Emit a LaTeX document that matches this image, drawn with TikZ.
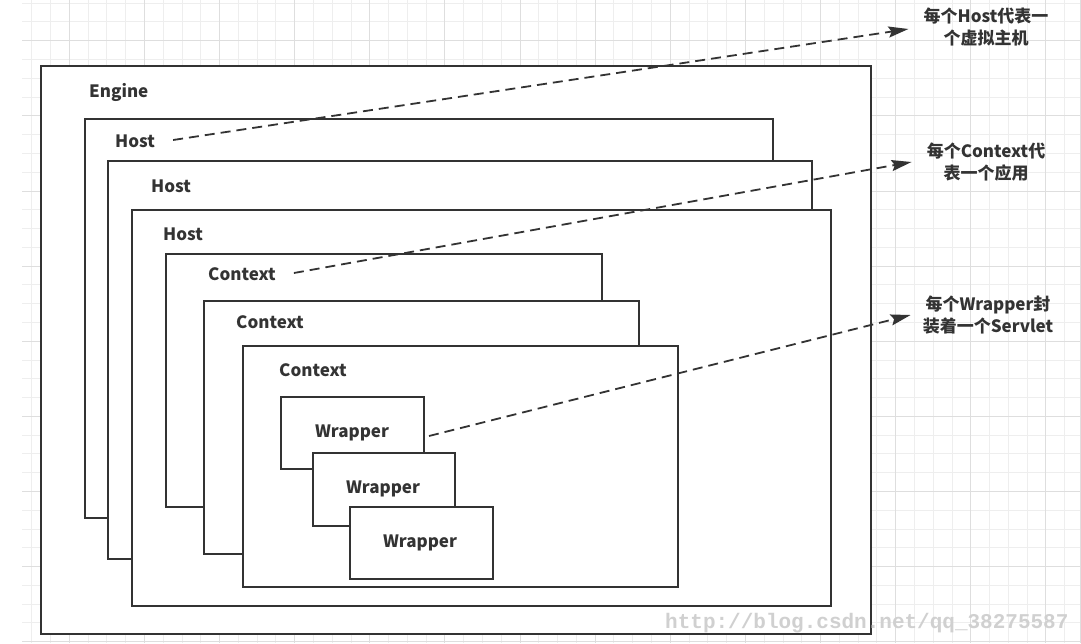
\documentclass[tikz,border=0pt]{standalone}
\usepackage{fontspec}
\setmainfont{Noto Sans CJK SC}
\newfontfamily\wmfont{Liberation Mono}
\usetikzlibrary{arrows.meta}
\definecolor{ink}{HTML}{333333}
\definecolor{gridl}{HTML}{EEEEEE}
\definecolor{gridh}{HTML}{DEDEDE}
\definecolor{wm}{HTML}{D0D0D0}
\tikzset{
  box/.style={draw=ink, line width=2pt, fill=white, anchor=north west, inner sep=0pt},
  lbl/.style={text=ink, font=\fontsize{17}{20}\selectfont\bfseries, inner sep=0pt},
  note/.style={text=ink, font=\fontsize{17}{22}\selectfont\bfseries, align=center, inner sep=0pt},
  conn/.style={draw=ink, line width=1.8pt, dash pattern=on 10pt off 6pt, -{Stealth[length=20pt,width=11pt,inset=3pt]}},
}
\begin{document}
\begin{tikzpicture}[x=1pt,y=-1pt]
\useasboundingbox (0,0) rectangle (1081,643);
\fill[white] (0,0) rectangle (1081,643);
% grid
\foreach \k in {0,...,55} {\draw[gridl, line width=0.8pt] ({31.7+18.78*\k},0) -- ({31.7+18.78*\k},643);}
\foreach \k in {0,...,34} {\draw[gridl, line width=0.8pt] (22,{3.1+18.78*\k}) -- (1081,{3.1+18.78*\k});}
\foreach \k in {2,6,...,54} {\draw[gridh, line width=0.8pt] ({31.7+18.78*\k},0) -- ({31.7+18.78*\k},643);}
\foreach \k in {2,6,...,34} {\draw[gridh, line width=0.8pt] (22,{3.1+18.78*\k}) -- (1081,{3.1+18.78*\k});}
\draw[gridh, line width=1pt] (1080,0) -- (1080,643);
% boxes
\node[box, minimum width=830pt, minimum height=568pt] (engine) at (40,65) {};
\node[box, minimum width=688pt, minimum height=399pt] (host1) at (84,118) {};
\node[box, minimum width=704pt, minimum height=398pt] (host2) at (107,160) {};
\node[box, minimum width=699pt, minimum height=396pt] (host3) at (131,209) {};
\node[box, minimum width=436pt, minimum height=253pt] (ctx1) at (165,253) {};
\node[box, minimum width=435pt, minimum height=253pt] (ctx2) at (203,300) {};
\node[box, minimum width=435pt, minimum height=241pt] (ctx3) at (242,345) {};
\node[box, minimum width=143pt, minimum height=72pt] (wr1) at (280,396) {};
\node[box, minimum width=142pt, minimum height=73pt] (wr2) at (312,452) {};
\node[box, minimum width=143pt, minimum height=72pt] (wr3) at (349,506) {};
% labels
\node[lbl, anchor=west] (englbl) at (89,92) {Engine};
\node[lbl, anchor=west] (hostl1) at (115,141) {Host};
\node[lbl, anchor=west] (hostl2) at (151,186) {Host};
\node[lbl, anchor=west] (hostl3) at (163,234) {Host};
\node[lbl, anchor=west] (ctxl1) at (208,274) {Context};
\node[lbl, anchor=west] (ctxl2) at (236,322) {Context};
\node[lbl, anchor=west] (ctxl3) at (279,370) {Context};
\node[lbl] (wrl1) at (352,433) {Wrapper};
\node[lbl] (wrl2) at (383,489) {Wrapper};
\node[lbl] (wrl3) at (420,543) {Wrapper};
% notes
\node[note] (note1) at (986,27) {每个Host代表一\\个虚拟主机};
\node[note] (note2) at (986,162) {每个Context代\\表一个应用};
\node[note] (note3) at (988,315) {每个Wrapper封\\装着一个Servlet};
% connectors
\draw[conn] ([xshift=18pt,yshift=1pt]hostl1.east) -- ([xshift=-15pt,yshift=-2pt]note1.west);
\draw[conn] ([xshift=18pt,yshift=1pt]ctxl1.east) -- ([xshift=-15pt]note2.west);
\draw[conn] (wr1.east |- wrl1.east) ++(4pt,-3pt) -- ([xshift=-12pt]note3.west);
% watermark
\node[text=wm, font=\wmfont\bfseries\fontsize{21}{24}\selectfont, inner sep=0pt, anchor=west] (wmark) at (665,623) {http://blog.csdn.net/qq\_38275587};
\end{tikzpicture}
\end{document}
